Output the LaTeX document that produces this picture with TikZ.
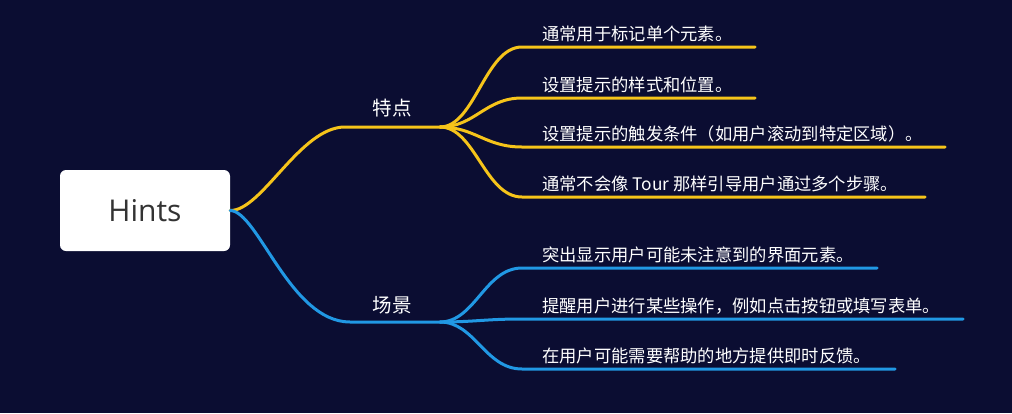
\documentclass[tikz,border=0pt]{standalone}
\usepackage{fontspec}
\setmainfont{Noto Sans CJK SC}
\newfontfamily\hintsfont{Open Sans}
\definecolor{bgnavy}{RGB}{11,13,50}
\definecolor{yel}{RGB}{246,196,26}
\definecolor{blu}{RGB}{33,152,228}
\definecolor{hintgray}{RGB}{51,51,51}
\tikzset{
  rootbox/.style={fill=white, rounded corners=6pt, minimum width=170pt, minimum height=81pt, inner sep=0pt, text=hintgray, font=\hintsfont\fontsize{30}{36}\selectfont},
  branchlabel/.style={text=white, inner sep=0pt, font=\fontsize{19.5}{22}\selectfont},
  leaf/.style={text=white, inner sep=0pt, anchor=base west, font=\fontsize{17.3}{20}\selectfont},
  ybr/.style={draw=yel, line width=3pt, line cap=round},
  bbr/.style={draw=blu, line width=3pt, line cap=round},
}
\begin{document}
\begin{tikzpicture}[x=1pt,y=-1pt]
\useasboundingbox (0,0) rectangle (1012,413);
\fill[bgnavy] (0,0) rectangle (1012,413);

% root
\node[rootbox] (hints) at (145,210.5) {Hints};

% branch points
\coordinate (p1) at (345,127);
\coordinate (j1) at (440,127);
\coordinate (p2) at (350,322);
\coordinate (j2) at (440,322);

\node[branchlabel] (tedian) at (392,108) {特点};
\node[branchlabel] (changjing) at (392,305) {场景};

% main connectors
\draw[ybr] (hints.east) .. controls (262,211) and (300,127) .. (p1) -- (j1);
\draw[bbr] (hints.east) .. controls (258,211) and (290,322) .. (p2) -- (j2);

% yellow leaves
\coordinate (ys1) at (522,47);  \coordinate (ye1) at (755,47);
\coordinate (ys2) at (522,98);  \coordinate (ye2) at (755,98);
\coordinate (ys3) at (522,147); \coordinate (ye3) at (945,147);
\coordinate (ys4) at (522,197); \coordinate (ye4) at (925,197);

\node[leaf] (y1) at (542,40) {通常用于标记单个元素。};
\node[leaf] (y2) at (542,91) {设置提示的样式和位置。};
\node[leaf] (y3) at (542,140) {设置提示的触发条件（如用户滚动到特定区域）。};
\node[leaf] (y4) at (542,190) {通常不会像 Tour 那样引导用户通过多个步骤。};

\draw[ybr] (j1) .. controls (475,127) and (485,47) .. (ys1) -- (ye1);
\draw[ybr] (j1) .. controls (475,127) and (485,98) .. (ys2) -- (ye2);
\draw[ybr] (j1) .. controls (475,127) and (485,147) .. (ys3) -- (ye3);
\draw[ybr] (j1) .. controls (475,127) and (485,197) .. (ys4) -- (ye4);

% blue leaves
\coordinate (bs1) at (522,268); \coordinate (be1) at (877,268);
\coordinate (bs2) at (522,319); \coordinate (be2) at (963,319);
\coordinate (bs3) at (522,369); \coordinate (be3) at (895,369);

\node[leaf] (b1) at (542,261) {突出显示用户可能未注意到的界面元素。};
\node[leaf] (b2) at (542,312) {提醒用户进行某些操作，例如点击按钮或填写表单。};
\node[leaf] (b3) at (542,362) {在用户可能需要帮助的地方提供即时反馈。};

\draw[bbr] (j2) .. controls (475,322) and (485,268) .. (bs1) -- (be1);
\draw[bbr] (j2) .. controls (475,322) and (485,319) .. (bs2) -- (be2);
\draw[bbr] (j2) .. controls (475,322) and (485,369) .. (bs3) -- (be3);
\end{tikzpicture}
\end{document}
